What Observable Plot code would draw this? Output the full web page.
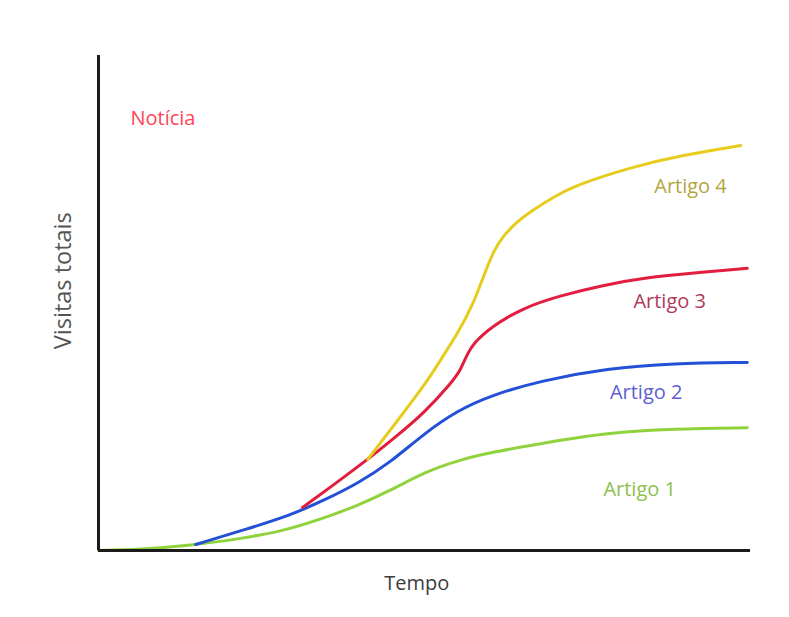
<!DOCTYPE html>
<html>
<head>
<meta charset="utf-8">
<script src="https://cdn.jsdelivr.net/npm/d3@7"></script>
<script src="https://cdn.jsdelivr.net/npm/@observablehq/plot@0.6"></script>
<style>
  html, body { margin: 0; padding: 0; background: #ffffff; }
  #chart svg { font-family: "Open Sans", sans-serif; }
</style>
</head>
<body>
<div id="chart"></div>
<script>
// Series values (x = time, y = total visits), arbitrary units 0–100
const artigo1X = [0, 6.4, 14.1, 21.8, 27.9, 34.5, 39.4, 44.8, 49.9, 55.1, 60.1, 67.8, 78.1, 88.2, 99.5];
const artigo1Y = [0, 0.2, 1.0, 2.4, 3.8, 6.5, 8.9, 12.1, 15.8, 18.2, 19.8, 21.6, 23.8, 24.6, 24.8];

const artigo2X = [14.9, 22.9, 29.4, 34.5, 39.7, 44.8, 49.9, 55.1, 60.1, 67.8, 78.1, 88.2, 99.5];
const artigo2Y = [1.2, 4.4, 7.1, 10.1, 13.5, 17.8, 23.6, 28.3, 31.3, 34.3, 36.8, 37.8, 38.0];

const artigo3X = [31.3, 36.3, 41.3, 45.6, 49.9, 54.4, 55.5, 56.6, 57.5, 60.1, 65.2, 70.9, 77.0, 84.2, 92.3, 99.5];
const artigo3Y = [8.7, 13.5, 18.4, 23.0, 27.7, 34.3, 36.4, 39.8, 41.8, 45.1, 49.1, 51.5, 53.5, 55.2, 56.2, 57.0];

const artigo4X = [41.3, 45.9, 50.5, 52.4, 55.1, 57.5, 59.0, 60.6, 62.1, 64.1, 66.3, 70.1, 73.9, 81.6, 89.3, 98.5];
const artigo4Y = [18.4, 26.3, 34.3, 38.4, 43.8, 49.9, 55.2, 60.6, 63.6, 66.3, 68.5, 71.7, 74.1, 77.4, 79.8, 81.8];

const seriesNames = ["Artigo 1", "Artigo 2", "Artigo 3", "Artigo 4"];
const lineColors = ["#8fd33c", "#2350d6", "#e21d3e", "#e6cc1c"];

// Annotation labels
const labelTexts  = ["Artigo 4", "Artigo 3", "Artigo 2", "Artigo 1", "Notícia"];
const labelX      = [90.8, 87.6, 84.0, 83.0, 4.9];
const labelY      = [73.6, 50.3, 31.9, 12.4, 87.3];
const labelColors = ["#b3a63e", "#b0385a", "#5e5ed2", "#8ec04a", "#ff4458"];
const labelAnchor = ["middle", "middle", "middle", "middle", "start"];

const xTitle = "Tempo";
const yTitle = "Visitas totais";

// Build table
const seriesX = [artigo1X, artigo2X, artigo3X, artigo4X];
const seriesY = [artigo1Y, artigo2Y, artigo3Y, artigo4Y];
const rows = [];
seriesNames.forEach((name, i) => {
  seriesX[i].forEach((x, j) => rows.push({series: name, x, y: seriesY[i][j]}));
});
const labels = labelTexts.map((t, i) => ({t, x: labelX[i], y: labelY[i], color: labelColors[i], anchor: labelAnchor[i]}));

const chart = Plot.plot({
  width: 789,
  height: 617,
  marginLeft: 98,
  marginRight: 39,
  marginTop: 55,
  marginBottom: 67,
  x: {domain: [0, 100], axis: null},
  y: {domain: [0, 100], axis: null},
  color: {domain: seriesNames, range: lineColors},
  style: {background: "#ffffff", fontFamily: "Open Sans, sans-serif"},
  marks: [
    Plot.lineY(rows, {x: "x", y: "y", z: "series", stroke: "series", strokeWidth: 3, curve: "basis"}),
    Plot.ruleX([0], {stroke: "#1a1a1a", strokeWidth: 3}),
    Plot.ruleY([0], {stroke: "#1a1a1a", strokeWidth: 3}),
    Plot.text(labels.filter(d => d.anchor === "middle"), {x: "x", y: "y", text: "t", fill: d => d.color, fontSize: 20, textAnchor: "middle"}),
    Plot.text(labels.filter(d => d.anchor === "start"), {x: "x", y: "y", text: "t", fill: d => d.color, fontSize: 20, textAnchor: "start"}),
    Plot.text([xTitle], {x: 48.8, y: 0, dy: 33, text: d => d, fill: "#3c3c3c", fontSize: 20, textAnchor: "middle"}),
    Plot.text([yTitle], {x: 0, y: 54.5, dx: -35, text: d => d, fill: "#555555", fontSize: 23.5, rotate: -90, textAnchor: "middle"})
  ]
});
document.getElementById("chart").appendChild(chart);
</script>
</body>
</html>
